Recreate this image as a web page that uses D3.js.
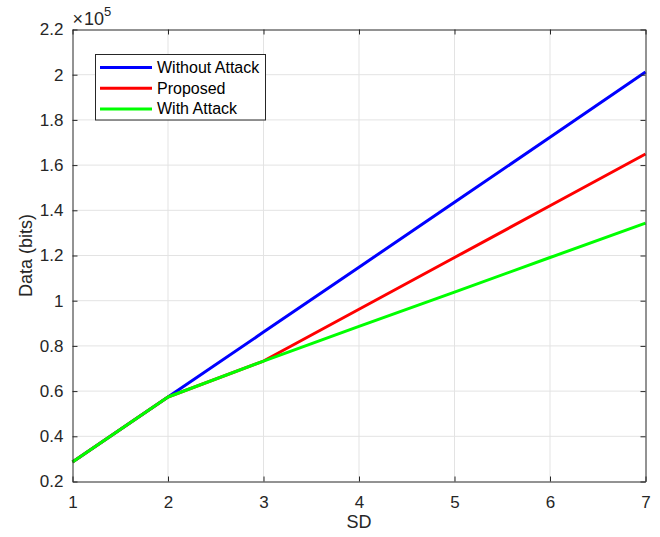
<!DOCTYPE html>
<html>
<head>
<meta charset="utf-8">
<script src="https://cdn.jsdelivr.net/npm/d3@7"></script>
<style>
  html, body { margin: 0; padding: 0; background: #fff; }
  svg { display: block; font-family: "Liberation Sans", Arial, Helvetica, sans-serif; }
</style>
</head>
<body>
<svg id="chart" width="660" height="537"></svg>
<script>
// SD levels on the x axis
const sd = [1, 2, 3, 4, 5, 6, 7];
// Transmitted data in bits (shown in units of 1e5)
const withoutAttack = [0.286, 0.574, 0.861, 1.148, 1.436, 1.723, 2.012];
const proposed      = [0.286, 0.574, 0.733, 0.962, 1.191, 1.420, 1.649];
const withAttack    = [0.286, 0.574, 0.733, 0.886, 1.038, 1.191, 1.343];
const seriesNames = ["Without Attack", "Proposed", "With Attack"];
const seriesColors = ["#0000ff", "#ff0000", "#00ff00"];
const xTicks = [1, 2, 3, 4, 5, 6, 7];
const yTicks = [0.2, 0.4, 0.6, 0.8, 1, 1.2, 1.4, 1.6, 1.8, 2, 2.2];

const svg = d3.select("#chart");
const m = { left: 72.5, top: 29.5, right: 645.5, bottom: 481.5 };
const x = d3.scaleLinear().domain([1, 7]).range([m.left, m.right]);
const y = d3.scaleLinear().domain([0.2, 2.2]).range([m.bottom, m.top]);
const axisColor = "#262626";

// grid
const grid = svg.append("g");
grid.selectAll(".gx").data(xTicks.slice(1, -1)).join("line")
  .attr("x1", d => x(d)).attr("x2", d => x(d))
  .attr("y1", m.top).attr("y2", m.bottom)
  .attr("stroke", "#e3e3e3").attr("stroke-width", 1);
grid.selectAll(".gy").data(yTicks.slice(1, -1)).join("line")
  .attr("x1", m.left).attr("x2", m.right)
  .attr("y1", d => y(d)).attr("y2", d => y(d))
  .attr("stroke", "#e3e3e3").attr("stroke-width", 1);

// series: blue first, then red, green on top
const series = [withoutAttack, proposed, withAttack];
const line = d3.line().x((d, i) => x(sd[i])).y(d => y(d));
[0, 1, 2].forEach(k => {
  svg.append("path").datum(series[k])
    .attr("d", line)
    .attr("fill", "none")
    .attr("stroke", seriesColors[k])
    .attr("stroke-width", 3)
    .attr("stroke-linejoin", "round");
});

// axes with inward ticks on all four sides
const fmtY = d => d3.format("~g")(d);
const tickLen = 5;
const axG = svg.append("g");
axG.append("g").attr("transform", `translate(0,${m.bottom})`)
  .call(d3.axisBottom(x).tickValues(xTicks).tickSizeInner(-tickLen).tickSizeOuter(0).tickPadding(14).tickFormat(d3.format("d")));
axG.append("g").attr("transform", `translate(0,${m.top})`)
  .call(d3.axisTop(x).tickValues(xTicks).tickSizeInner(-tickLen).tickSizeOuter(0).tickFormat(""));
axG.append("g").attr("transform", `translate(${m.left},0)`)
  .call(d3.axisLeft(y).tickValues(yTicks).tickSizeInner(-tickLen).tickSizeOuter(0).tickPadding(9).tickFormat(fmtY));
axG.append("g").attr("transform", `translate(${m.right},0)`)
  .call(d3.axisRight(y).tickValues(yTicks).tickSizeInner(-tickLen).tickSizeOuter(0).tickFormat(""));
axG.selectAll(".domain").attr("stroke", axisColor);
axG.selectAll(".tick line").attr("stroke", axisColor);
axG.selectAll(".tick text").attr("fill", axisColor).attr("font-size", 17)
  .attr("font-family", "'Liberation Sans', Arial, sans-serif");

// exponent label
const ex = svg.append("text").attr("x", m.left).attr("y", 25)
  .attr("font-size", 18).attr("fill", axisColor);
ex.append("tspan").text("\u00d7");
ex.append("tspan").attr("dx", 1).text("10");
ex.append("tspan").attr("dy", -9).attr("font-size", 13).text("5");

// axis titles
svg.append("text").attr("x", (m.left + m.right) / 2).attr("y", 528)
  .attr("text-anchor", "middle").attr("font-size", 18).attr("fill", axisColor).text("SD");
svg.append("text").attr("transform", `translate(32,${(m.top + m.bottom) / 2}) rotate(-90)`)
  .attr("text-anchor", "middle").attr("font-size", 18).attr("fill", axisColor).text("Data (bits)");

// legend
const lg = svg.append("g");
lg.append("rect").attr("x", 95.5).attr("y", 54.5).attr("width", 170).attr("height", 65.5)
  .attr("fill", "#fff").attr("stroke", axisColor).attr("stroke-width", 1);
seriesNames.forEach((name, i) => {
  const yy = 67.5 + i * 20.7;
  lg.append("line").attr("x1", 100).attr("x2", 152).attr("y1", yy).attr("y2", yy)
    .attr("stroke", seriesColors[i]).attr("stroke-width", 3);
  lg.append("text").attr("x", 157).attr("y", yy + 5.5).attr("font-size", 16)
    .attr("fill", "#000").text(name);
});
</script>
</body>
</html>
